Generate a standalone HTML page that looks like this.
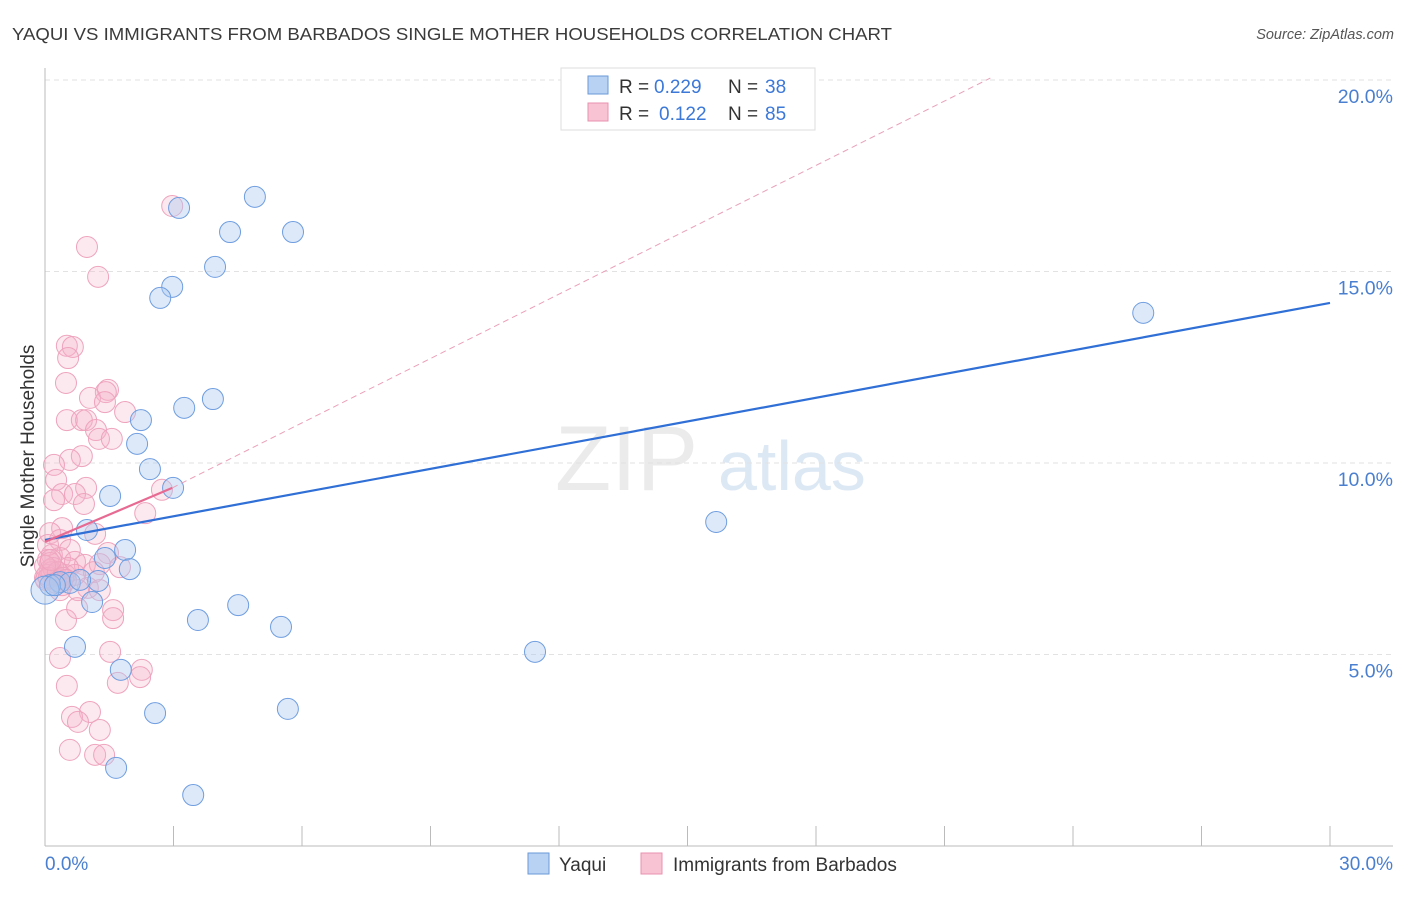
<!DOCTYPE html>
<html><head><meta charset="utf-8">
<style>
body{margin:0;background:#fff;font-family:"Liberation Sans",sans-serif;}
svg text{font-family:"Liberation Sans",sans-serif;}
</style></head>
<body>
<svg id="chart" width="1406" height="892" viewBox="0 0 1406 892" xmlns="http://www.w3.org/2000/svg">
<text x="12" y="40" font-size="17.5" fill="#3a3a3a" textLength="880" lengthAdjust="spacingAndGlyphs">YAQUI VS IMMIGRANTS FROM BARBADOS SINGLE MOTHER HOUSEHOLDS CORRELATION CHART</text>
<text x="1394" y="39" font-size="14.5" fill="#555" font-style="italic" text-anchor="end">Source: ZipAtlas.com</text>
<text x="555" y="490" font-size="92" fill="#ebebeb" font-family="Liberation Serif">ZIP</text>
<text x="718" y="490" font-size="70" fill="#dde8f5">atlas</text>
<g id="grid"></g>
<g id="axes"></g>
<g id="marks"></g>
<text transform="translate(34,456) rotate(-90)" font-size="19" fill="#333" text-anchor="middle">Single Mother Households</text>
<g>
<rect x="561" y="68" width="254" height="62" fill="#fff" stroke="#ddd"/>
<rect x="588" y="76" width="20" height="18" fill="#b8d2f3" stroke="#6a9ad8"/>
<text x="619" y="93" font-size="19" fill="#333">R =</text>
<text x="654" y="93" font-size="19" fill="#3b78d8">0.229</text>
<text x="728" y="93" font-size="19" fill="#333">N =</text>
<text x="765" y="93" font-size="19" fill="#3b78d8">38</text>
<rect x="588" y="103" width="20" height="18" fill="#f8c4d4" stroke="#e891ae"/>
<text x="619" y="120" font-size="19" fill="#333">R =</text>
<text x="659" y="120" font-size="19" fill="#3b78d8">0.122</text>
<text x="728" y="120" font-size="19" fill="#333">N =</text>
<text x="765" y="120" font-size="19" fill="#3b78d8">85</text>
</g>
<g>
<rect x="528" y="853" width="21" height="21" fill="#b8d2f3" stroke="#6a9ad8"/>
<text x="559" y="871" font-size="19" fill="#333">Yaqui</text>
<rect x="641" y="853" width="21" height="21" fill="#f8c4d4" stroke="#e891ae"/>
<text x="673" y="871" font-size="19" fill="#333">Immigrants from Barbados</text>
</g>
</svg>
<script>
const yTicks=[5,10,15,20];
const yTickLabels=["5.0%","10.0%","15.0%","20.0%"];
const xTickLabels=["0.0%","30.0%"];
const blueX=[4.90,3.13,4.32,5.79,3.97,2.97,2.69,25.64,3.92,3.25,2.24,2.15,2.45,2.99,1.52,15.67,0.98,1.87,1.40,1.98,1.24,0.35,0.58,0.12,0.0,1.10,4.51,3.57,5.51,0.70,11.44,1.77,2.57,5.67,1.66,3.46,0.23,0.82];
const blueY=[16.95,16.66,16.03,16.03,15.12,14.60,14.31,13.92,11.67,11.44,11.12,10.50,9.84,9.35,9.14,8.46,8.25,7.73,7.52,7.23,6.92,6.89,6.87,6.81,6.68,6.37,6.29,5.90,5.72,5.20,5.07,4.60,3.47,3.58,2.04,1.33,6.81,6.95];
const pinkX=[2.97,.98,1.24,.51,.65,.54,.49,1.47,1.42,1.05,1.40,1.87,.51,.86,.96,1.19,1.26,1.56,.86,.58,.21,.26,.96,.40,.70,.21,.91,2.73,2.34,.40,.12,.35,1.17,.58,1.47,.16,.35,.07,.70,.93,1.28,1.14,.12,.23,.47,0,.30,.40,1.00,.77,1.59,1.59,.49,.75,1.52,.35,2.26,2.22,1.70,.51,1.05,.63,.77,1.28,.58,1.17,1.38,.07,.12,.16,.02,.54,.70,.35,1.28,1.75,.05,.19,.09,.30,0,.42,.26,.14,.49];
const pinkY=[16.71,15.64,14.86,13.06,13.03,12.74,12.09,11.91,11.85,11.70,11.59,11.33,11.12,11.12,11.12,10.86,10.63,10.63,10.18,10.08,9.95,9.56,9.35,9.19,9.19,9.03,8.93,9.30,8.69,8.30,8.17,7.99,8.15,7.73,7.65,7.60,7.52,7.47,7.42,7.34,7.36,7.15,7.21,7.08,7.08,7.00,6.95,6.81,6.74,6.68,6.16,5.95,5.90,6.21,5.07,4.91,4.60,4.41,4.26,4.18,3.50,3.37,3.24,3.03,2.51,2.38,2.38,7.86,7.39,7.15,6.95,7.26,7.08,6.68,6.68,7.28,7.08,7.26,7.00,7.15,7.31,7.00,6.87,7.47,6.95];
const blueTrend=[[0,7.99],[30,14.18]];
const pinkTrend=[[0,7.94],[2.97,9.35]];
const pinkDash=[[2.97,9.35],[22.07,20.05]];

const NS="http://www.w3.org/2000/svg";
const xs=v=>45+v/30*1285;
const ys=v=>846-v*38.3;
function mk(tag,attrs,parent){const e=document.createElementNS(NS,tag);for(const k in attrs)e.setAttribute(k,attrs[k]);parent.appendChild(e);return e;}
const grid=document.getElementById('grid'),axes=document.getElementById('axes'),marks=document.getElementById('marks');
yTicks.forEach((t,i)=>{
  const l=mk('line',{x1:45,x2:1393,y1:ys(t),y2:ys(t),stroke:'#e2e2e2','stroke-dasharray':'5,4'},grid);
  
  
  const tx=mk('text',{x:1393,y:ys(t)+23,'font-size':19.5,fill:'#4a7fd0','text-anchor':'end'},axes);
  tx.textContent=yTickLabels[i];
  
  
});
const yl=mk('line',{x1:45,x2:45,y1:68,y2:846,stroke:'#bbb'},axes);


const xl=mk('line',{x1:45,x2:1393,y1:846,y2:846,stroke:'#bbb'},axes);


for(let i=0;i<=10;i++){
  const t=mk('line',{x1:xs(i*3),x2:xs(i*3),y1:826,y2:846,stroke:'#bbb'},axes);
  
  
}
[[0,'start',45],[30,'end',1393]].forEach((d,i)=>{
  const tx=mk('text',{x:d[2],y:870,'font-size':19,fill:'#4a7fd0','text-anchor':d[1]},axes);
  tx.textContent=xTickLabels[i];
  
  
});
pinkX.forEach((x,i)=>{
  const c=mk('circle',{cx:xs(x),cy:ys(pinkY[i]),r:10.5,fill:'rgba(246,180,203,0.3)',stroke:'#eea3bd','stroke-width':1},marks);
  
  
});
blueX.forEach((x,i)=>{
  const c=mk('circle',{cx:xs(x),cy:ys(blueY[i]),r:i==24?14:10.5,fill:'rgba(170,200,240,0.4)',stroke:'#6e9de0','stroke-width':1},marks);
  
  
});
const bl=mk('line',{x1:xs(blueTrend[0][0]),y1:ys(blueTrend[0][1]),x2:xs(blueTrend[1][0]),y2:ys(blueTrend[1][1]),stroke:'#2f6fd6','stroke-width':2.2},marks);


const pl=mk('line',{x1:xs(pinkTrend[0][0]),y1:ys(pinkTrend[0][1]),x2:xs(pinkTrend[1][0]),y2:ys(pinkTrend[1][1]),stroke:'#e76a93','stroke-width':2.2},marks);


const pd=mk('line',{x1:xs(pinkDash[0][0]),y1:ys(pinkDash[0][1]),x2:xs(pinkDash[1][0]),y2:ys(pinkDash[1][1]),stroke:'#eaa0b8','stroke-width':1,'stroke-dasharray':'6,4'},marks);


</script>
</body></html>
